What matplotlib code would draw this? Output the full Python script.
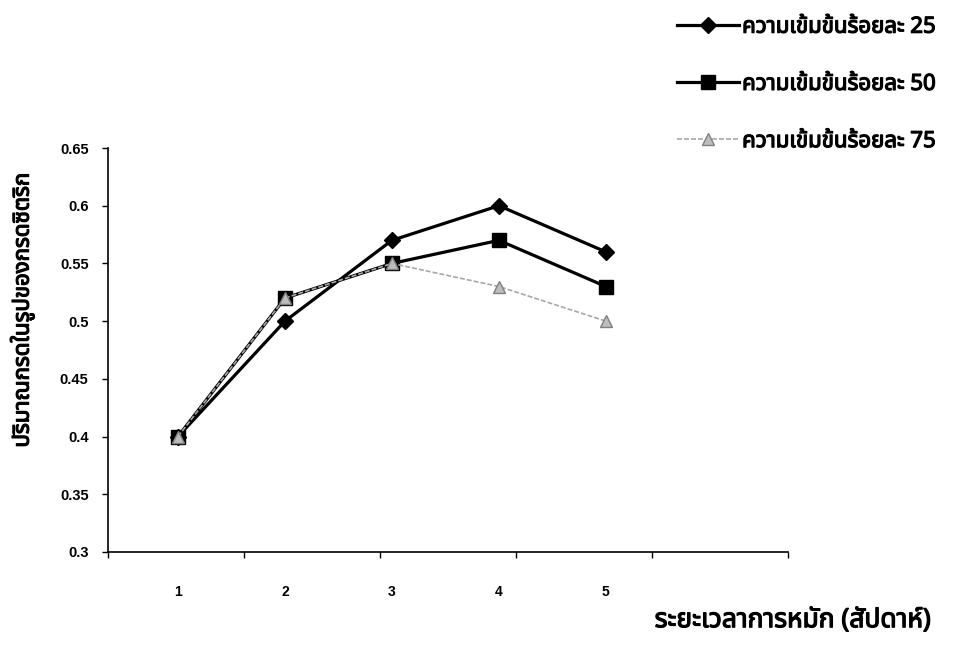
import matplotlib
matplotlib.use("Agg")
import matplotlib.pyplot as plt
import matplotlib.patheffects as pe
from matplotlib import font_manager
from matplotlib.lines import Line2D
from fontTools.ttLib import TTFont

weeks = [1, 2, 3, 4, 5]
conc25 = [0.40, 0.50, 0.57, 0.60, 0.56]
conc50 = [0.40, 0.52, 0.55, 0.57, 0.53]
conc75 = [0.40, 0.52, 0.55, 0.53, 0.50]
series_labels = ["ความเข้มข้นร้อยละ 25", "ความเข้มข้นร้อยละ 50", "ความเข้มข้นร้อยละ 75"]
yticks = [0.3, 0.35, 0.4, 0.45, 0.5, 0.55, 0.6, 0.65]
ytick_labels = ["0.3", "0.35", "0.4", "0.45", "0.5", "0.55", "0.6", "0.65"]
xlabel = "ระยะเวลาการหมัก (สัปดาห์)"
ylabel = "ปริมาณกรดในรูปของกรดซิตริก"


# find a family that has thai glyphs (the usual ones dont)
def find_thai_family():
    found = []
    for f in font_manager.fontManager.ttflist:
        try:
            cmap = TTFont(f.fname, fontNumber=0, lazy=True).getBestCmap()
        except Exception:
            continue
        if cmap and 0x0E01 in cmap and 0x0E49 in cmap:
            found.append(f.name)
    for pref in ["Noto Sans Thai", "Loma", "Garuda", "Tlwg Typo", "Laksaman", "Norasi", "Kinnari"]:
        if pref in found:
            return pref
    return found[0] if found else "DejaVu Sans"


thai = find_thai_family()
fam = [thai, "DejaVu Sans"]
# the thai face has no real bold here, so thicken it with a stroke
fake_bold = [pe.withStroke(linewidth=0.9, foreground="black")]

fig = plt.figure(figsize=(9.67, 6.64), dpi=100)
ax = fig.add_axes([0.1117, 0.1687, 0.703, 0.6084])

ax.plot(weeks, conc25, color="black", lw=2.3, marker="D", ms=8, zorder=3)
ax.plot(weeks, conc50, color="black", lw=2.3, marker="s", ms=9.5, zorder=4)
ax.plot(weeks, conc75, color="#a8a8a8", lw=1.2, ls=(0, (3, 1.2)), marker="^",
        ms=9, mfc="#bdbdbd", mec="#808080", zorder=5)

# category-style x axis: points sit off the tick marks
xlo = 1 + (108 - 178) / 107
xhi = 1 + (788 - 178) / 107
ax.set_xlim(xlo, xhi)
ax.set_ylim(0.3, 0.65)

step = (xhi - xlo) / 5
ax.set_xticks([xlo + i * step for i in range(6)])
ax.set_xticklabels([])
ax.tick_params(axis="x", direction="out", length=4, width=1)
for w in weeks:
    ax.text(w, -0.1, str(w), transform=ax.get_xaxis_transform(), ha="center", va="center",
            fontsize=10, fontweight="bold", family="Liberation Sans")

ax.set_yticks(yticks)
ax.set_yticklabels(ytick_labels, fontsize=10.5, fontweight="bold", family="Liberation Sans")
ax.tick_params(axis="y", direction="out", length=4, width=1, pad=10)

for s in ["top", "right"]:
    ax.spines[s].set_visible(False)
for s in ["left", "bottom"]:
    ax.spines[s].set_linewidth(1.2)

fig.text(0.023, 0.533, ylabel, rotation=90, ha="center", va="center",
         fontsize=16, family=fam, path_effects=fake_bold)
fig.text(0.677, 0.066, xlabel, ha="left", va="center",
         fontsize=19, family=fam, path_effects=fake_bold)

handles = [
    Line2D([], [], color="black", lw=2.3, marker="D", ms=8),
    Line2D([], [], color="black", lw=2.3, marker="s", ms=9.5),
    Line2D([], [], color="#a8a8a8", lw=1.2, ls=(0, (3, 1.2)), marker="^", ms=9,
           mfc="#bdbdbd", mec="#808080"),
]
leg = fig.legend(handles, series_labels, loc="upper left", bbox_to_anchor=(0.679, 1.005),
                 frameon=False, handlelength=2.8, handletextpad=0.15, labelspacing=1.63,
                 prop={"family": fam, "size": 16})
for t in leg.get_texts():
    t.set_path_effects(fake_bold)

fig.savefig("out.png", dpi=100)
